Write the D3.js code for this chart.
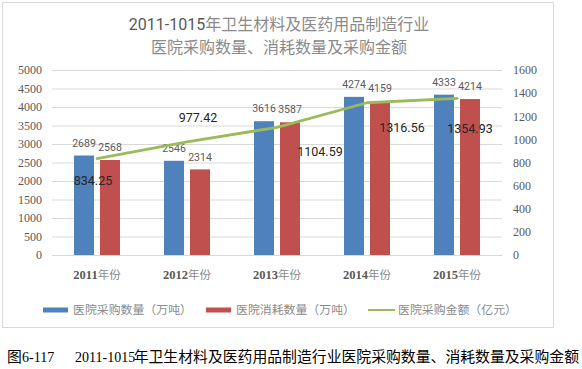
<!DOCTYPE html>
<html>
<head>
<meta charset="utf-8">
<script src="https://cdn.jsdelivr.net/npm/d3@7"></script>
<style>
  html, body { margin: 0; padding: 0; background: #fff; }
  svg { display: block; }
</style>
</head>
<body>
<svg id="chart" width="582" height="369"></svg>
<script>
// ---- data ----
const years = ["2011", "2012", "2013", "2014", "2015"];
const categorySuffix = "年份";
const purchaseQty = [2689, 2546, 3616, 4274, 4333];      // 医院采购数量（万吨）
const consumeQty = [2568, 2314, 3587, 4159, 4214];       // 医院消耗数量（万吨）
const purchaseAmt = [834.25, 977.42, 1104.59, 1316.56, 1354.93]; // 医院采购金额（亿元）
const seriesNames = ["医院采购数量（万吨）", "医院消耗数量（万吨）", "医院采购金额（亿元）"];
const leftTicks = [0, 500, 1000, 1500, 2000, 2500, 3000, 3500, 4000, 4500, 5000];
const rightTicks = [0, 200, 400, 600, 800, 1000, 1200, 1400, 1600];
const titleLine1Num = "2011-1015";
const titleLine1Text = "年卫生材料及医药用品制造行业";
const titleLine2 = "医院采购数量、消耗数量及采购金额";
const captionParts = ["图", "6-117", "2011-1015", "年卫生材料及医药用品制造行业医院采购数量、消耗数量及采购金额"];

// ---- layout ----
const colors = ["#4F81BD", "#C0504D", "#9BBB59"];
const plot = { left: 52, right: 502, top: 70, bottom: 255 };
// manual label offsets for the line's data labels (as placed in the original)
const lineLabelOffset = [[-4, 22], [11, -24], [43, 24], [35, 25], [13, 30]];

const CJK = "'Noto Sans CJK SC', sans-serif";
const svg = d3.select("#chart");

// frame
svg.append("rect").attr("x", 2.5).attr("y", 2.5).attr("width", 551).attr("height", 325)
  .attr("fill", "#fff").attr("stroke", "#D9D9D9").attr("stroke-width", 1);

// scales
const x0 = d3.scaleBand().domain(years).range([plot.left, plot.right]).padding(0);
const x1 = d3.scaleBand().domain([0, 1]).range([22, 68]).paddingInner(0.2308).paddingOuter(0);
const yL = d3.scaleLinear().domain([0, 5000]).range([plot.bottom, plot.top]);
const yR = d3.scaleLinear().domain([0, 1600]).range([plot.bottom, plot.top]);

// gridlines
const grid = svg.append("g").attr("transform", `translate(${plot.left},0)`)
  .call(d3.axisLeft(yL).tickValues(leftTicks).tickSize(-(plot.right - plot.left)).tickFormat(""));
grid.select(".domain").remove();
grid.selectAll("line").attr("stroke", "#D9D9D9").attr("stroke-width", 1);

// left axis labels
const axL = svg.append("g").attr("transform", `translate(${plot.left - 10},0)`)
  .call(d3.axisLeft(yL).tickValues(leftTicks).tickSize(0).tickPadding(0).tickFormat(d3.format("d")));
axL.select(".domain").remove();
axL.selectAll("text").attr("font-family", "'Liberation Serif', serif").attr("font-size", 12)
  .attr("fill", "#595959");

// right axis labels
const axR = svg.append("g").attr("transform", `translate(${plot.right + 11},0)`)
  .call(d3.axisRight(yR).tickValues(rightTicks).tickSize(0).tickPadding(0).tickFormat(d3.format("d")));
axR.select(".domain").remove();
axR.selectAll("text").attr("font-family", "'Liberation Serif', serif").attr("font-size", 12)
  .attr("fill", "#595959");

// bottom axis (category labels)
const axB = svg.append("g").attr("transform", `translate(0,${plot.bottom})`)
  .call(d3.axisBottom(x0).tickSize(0).tickPadding(0));
axB.select(".domain").attr("stroke", "#D9D9D9");
axB.selectAll("text").each(function (d) {
  const t = d3.select(this);
  t.text(null).attr("y", 20).attr("dy", "0.35em").attr("text-anchor", "middle");
  t.append("tspan").attr("font-family", "'Liberation Serif', serif").attr("font-weight", "bold")
    .attr("font-size", 12.5).attr("fill", "#595959").text(d);
  t.append("tspan").attr("font-family", CJK).attr("font-size", 11.5).attr("fill", "#8a8a8a").text(categorySuffix);
});

// bars
const barSeries = [purchaseQty, consumeQty];
const groups = svg.append("g").selectAll("g").data(years).join("g")
  .attr("transform", d => `translate(${x0(d)},0)`);
groups.selectAll("rect").data((d, i) => barSeries.map((s, k) => ({ k, v: s[i] }))).join("rect")
  .attr("x", d => x1(d.k)).attr("width", x1.bandwidth())
  .attr("y", d => yL(d.v)).attr("height", d => yL(0) - yL(d.v))
  .attr("fill", d => colors[d.k]);
groups.selectAll("text.bl").data((d, i) => barSeries.map((s, k) => ({ k, v: s[i] }))).join("text")
  .attr("class", "bl")
  .attr("x", d => x1(d.k) + x1.bandwidth() / 2).attr("y", d => yL(d.v) - 12.5)
  .attr("dy", "0.35em").attr("text-anchor", "middle")
  .attr("font-family", "Roboto, sans-serif").attr("font-size", 10.5).attr("fill", "#595959")
  .text(d => d.v);

// line
const cx = d => x0(d) + x0.bandwidth() / 2;
const line = d3.line().x((d, i) => cx(years[i])).y(d => yR(d));
svg.append("path").datum(purchaseAmt).attr("d", line)
  .attr("fill", "none").attr("stroke", colors[2]).attr("stroke-width", 2.8)
  .attr("stroke-linejoin", "round").attr("stroke-linecap", "round");
svg.append("g").selectAll("text").data(purchaseAmt).join("text")
  .attr("x", (d, i) => cx(years[i]) + lineLabelOffset[i][0])
  .attr("y", (d, i) => yR(d) + lineLabelOffset[i][1])
  .attr("dy", "0.35em").attr("text-anchor", "middle")
  .attr("font-family", "Roboto, sans-serif").attr("font-size", 12.5).attr("fill", "#262626")
  .text(d => d3.format(".2f")(d));

// title
const title = svg.append("g").attr("text-anchor", "middle");
const t1 = title.append("text").attr("x", 279).attr("y", 24).attr("dy", "0.35em").attr("font-size", 16);
t1.append("tspan").attr("font-family", "Roboto, sans-serif").attr("fill", "#595959").text(titleLine1Num);
t1.append("tspan").attr("font-family", CJK).attr("fill", "#8a8a8a").text(titleLine1Text);
title.append("text").attr("x", 279).attr("y", 47).attr("dy", "0.35em").attr("font-size", 16)
  .attr("font-family", CJK).attr("fill", "#8a8a8a").text(titleLine2);

// legend
const legendItems = [
  { x: 43, tx: 73, type: "rect" },
  { x: 206, tx: 236, type: "rect" },
  { x: 368, tx: 398, type: "line" }
];
const lg = svg.append("g");
legendItems.forEach((it, i) => {
  if (it.type === "rect") {
    lg.append("rect").attr("x", it.x).attr("y", 307.5).attr("width", 25).attr("height", 5).attr("fill", colors[i]);
  } else {
    lg.append("line").attr("x1", it.x).attr("x2", it.x + 27).attr("y1", 310).attr("y2", 310)
      .attr("stroke", colors[i]).attr("stroke-width", 2);
  }
  lg.append("text").attr("x", it.tx).attr("y", 310).attr("dy", "0.35em")
    .attr("font-family", CJK).attr("font-size", 11.9).attr("fill", "#8a8a8a").text(seriesNames[i]);
});

// caption
const cap = svg.append("g").attr("fill", "#000");
cap.append("text").attr("x", 7).attr("y", 357).attr("dy", "0.35em").attr("font-family", CJK)
  .attr("font-size", 14.8).text(captionParts[0]);
cap.append("text").attr("x", 22).attr("y", 357).attr("dy", "0.35em").attr("font-family", "'Liberation Serif', serif")
  .attr("font-size", 14).text(captionParts[1]);
cap.append("text").attr("x", 75).attr("y", 357).attr("dy", "0.35em").attr("font-family", "'Liberation Serif', serif")
  .attr("font-size", 14).text(captionParts[2]);
cap.append("text").attr("x", 579).attr("y", 357).attr("dy", "0.35em").attr("text-anchor", "end")
  .attr("font-family", CJK).attr("font-size", 14.85).text(captionParts[3]);
</script>
</body>
</html>
